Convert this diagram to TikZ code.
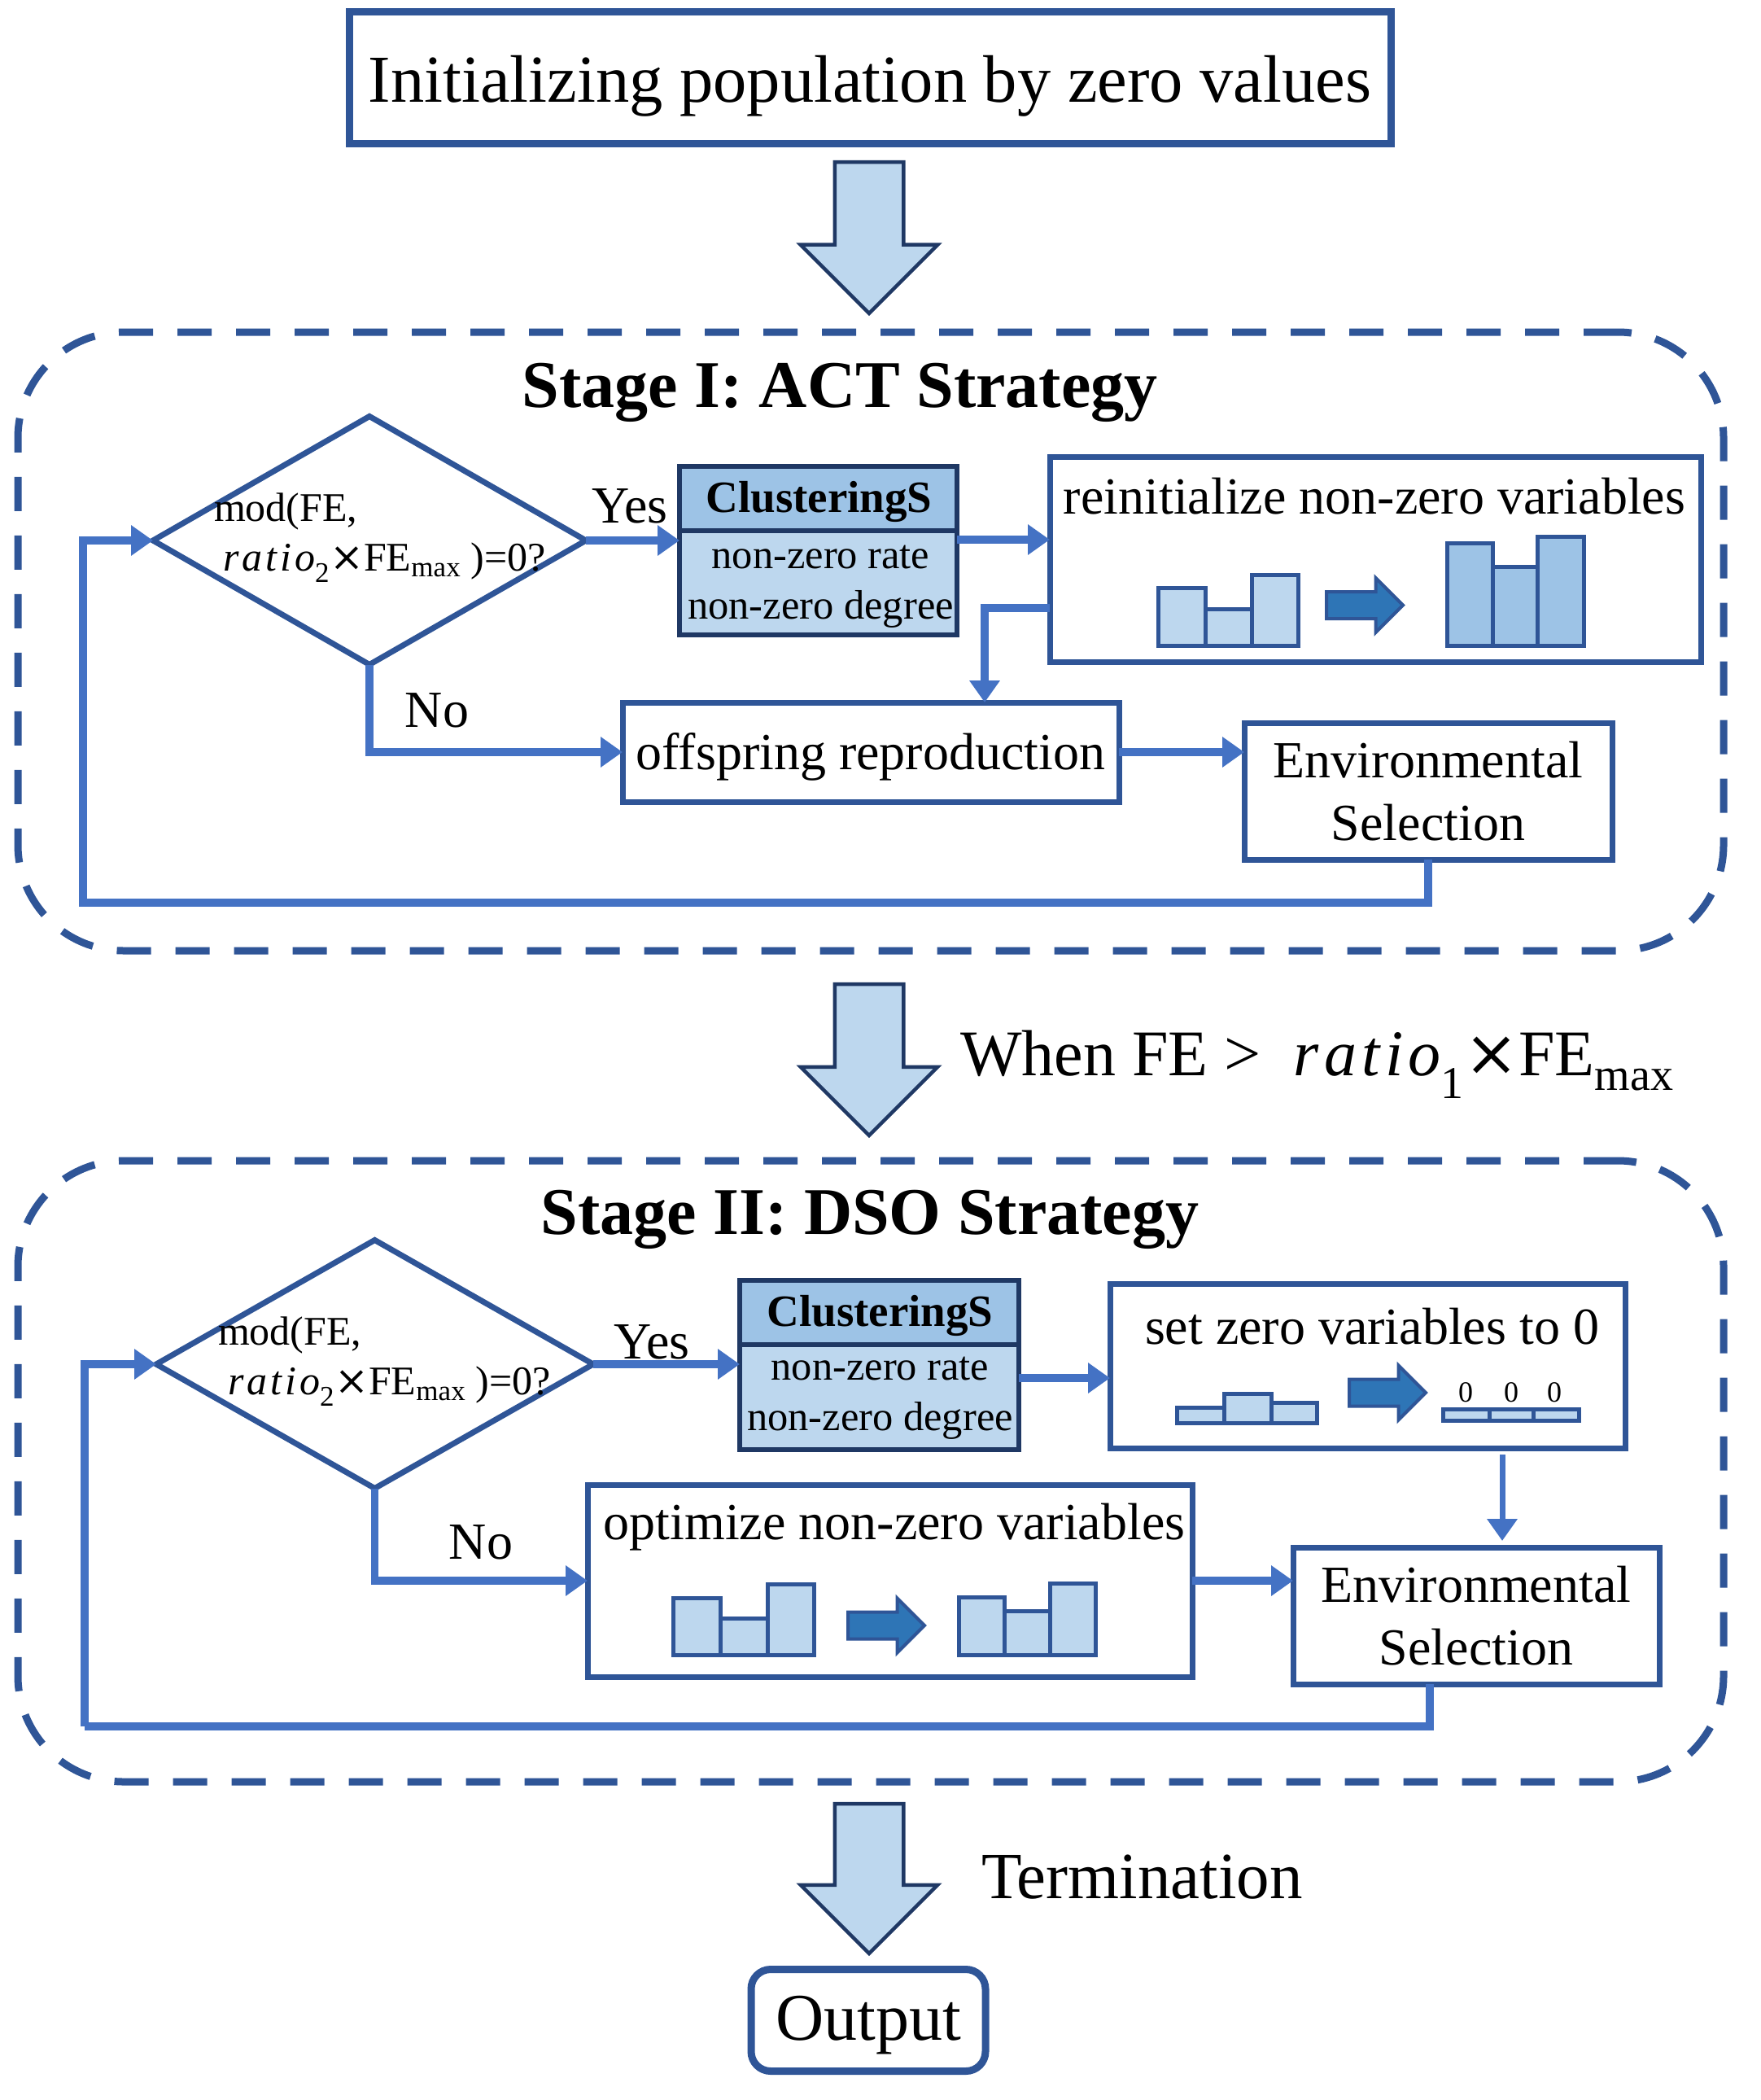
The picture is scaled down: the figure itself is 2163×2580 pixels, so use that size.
\documentclass[tikz,border=0pt]{standalone}
\usepackage{fontspec}
\setmainfont{Liberation Serif}
\newfontfamily\ratiofont[LetterSpace=8]{Liberation Serif}
\newfontfamily\mulfont{DejaVu Serif}
\usetikzlibrary{shapes.geometric,shapes.arrows,arrows.meta}
\definecolor{dkblue}{HTML}{2F5597}
\definecolor{navy}{HTML}{1F3864}
\definecolor{midblue}{HTML}{4472C4}
\definecolor{lightb}{HTML}{BDD7EE}
\definecolor{medb}{HTML}{9DC3E6}
\definecolor{arrb}{HTML}{2E75B6}
\newcommand{\fsz}[1]{\fontsize{#1}{\dimexpr#1pt*6/5\relax}\selectfont}
\newcommand{\ratiotxt}[1]{{\ratiofont\itshape ratio}\textsubscript{#1}{\mulfont ×}}
\tikzset{
  x=1pt,y=-1pt,
  boxn/.style={draw=dkblue,line width=7pt,rectangle,inner sep=0pt,outer sep=0pt,align=center,fill=white},
  stagebox/.style={draw=dkblue,line width=9pt,rectangle,rounded corners=130pt,dash pattern=on 42pt off 30pt,inner sep=0pt,outer sep=0pt},
  dia/.style={draw=dkblue,line width=7pt,diamond,aspect=1.75,inner sep=0pt,outer sep=0pt},
  clush/.style={draw=navy,line width=6pt,fill=medb,rectangle,inner sep=0pt,outer sep=0pt,align=center},
  clusb/.style={draw=navy,line width=6pt,fill=lightb,rectangle,inner sep=0pt,outer sep=0pt,align=center},
  conn/.style={draw=midblue,line width=9.5pt,-{Triangle[length=27pt,width=36pt]}},
  connp/.style={draw=midblue,line width=9.5pt},
  bigarrow/.style={draw=navy,line width=4.5pt,fill=lightb,single arrow,single arrow head extend=42pt,minimum width=164pt,inner sep=40pt,outer sep=0pt,shape border rotate=270,anchor=tail},
  smallarrow/.style={draw=dkblue,line width=4pt,fill=arrb,single arrow,single arrow head extend=17pt,minimum width=63pt,minimum height=94pt,inner sep=14.5pt,outer sep=0pt,anchor=tail},
  barl/.style={draw=dkblue,line width=5pt,fill=lightb},
  barm/.style={draw=dkblue,line width=5pt,fill=medb},
  lab/.style={inner sep=0pt,outer sep=0pt,align=center},
  labl/.style={inner sep=0pt,outer sep=0pt,anchor=west},
}
\begin{document}
\begin{tikzpicture}
\useasboundingbox (0,0) rectangle (2163,2580);
% stage frames
\node[stagebox,minimum width=2096pt,minimum height=760pt] (stage1) at (1070,788) {};
\node[stagebox,minimum width=2096pt,minimum height=763pt] (stage2) at (1070,1807.5) {};
% top and output
\node[boxn,line width=9pt,minimum width=1280pt,minimum height=161pt] (init) at (1069,95.5) {};
\node[lab,font=\fsz{82.5}] (initt) at (1069,106) {Initializing population by zero values};
\node[bigarrow,minimum height=186pt] (ba1) at (1068,199) {};
\node[bigarrow,minimum height=186pt] (ba2) at (1068,1209) {};
\node[bigarrow,minimum height=184pt] (ba3) at (1068,2216) {};
\node[boxn,line width=9pt,rounded corners=24pt,minimum width=288pt,minimum height=125pt] (out) at (1067,2482) {};
\node[lab,font=\fsz{82}] (outt) at (1067,2488) {Output};
\node[lab,font=\bfseries\fsz{82}] (t1) at (1032,482) {Stage I: ACT Strategy};
\node[lab,font=\bfseries\fsz{82}] (t2) at (1069,1498) {Stage II: DSO Strategy};
\node[labl,font=\fsz{80}] (when) at (1180,1308) {When FE > \ \ratiotxt{1}FE\textsubscript{max}};
\node[labl,font=\fsz{81}] (term) at (1206,2306) {Termination};
% Stage I
\node[dia,minimum width=532pt,minimum height=305pt] (dia1) at (454,664) {};
\node[labl,font=\fsz{50}] (m1a) at (263,628) {mod(FE,};
\node[labl,font=\fsz{50}] (m1b) at (274,691) {\ratiotxt{2}FE\textsubscript{max} )=0?};
\node[clush,minimum width=341pt,minimum height=79pt] (c1h) at (1005.5,612.5) {};
\node[lab,font=\bfseries\fsz{55}] (c1ht) at (1006.5,616) {ClusteringS};
\node[clusb,minimum width=341pt,minimum height=128pt] (c1b) at (1005.5,716) {};
\node[lab,font=\fsz{50.5}] (c1bt) at (1008.5,721) {non-zero rate\\[1pt]non-zero degree};
\node[boxn,minimum width=800pt,minimum height=252pt] (re) at (1690,687) {};
\node[lab,font=\fsz{64}] (ret) at (1689,610) {reinitialize non-zero variables};
\node[boxn,minimum width=610pt,minimum height=122pt] (off) at (1070,924) {};
\node[lab,font=\fsz{64}] (offt) at (1070,930) {offspring reproduction};
\node[boxn,minimum width=452pt,minimum height=168pt,font=\fsz{64}] (env1) at (1755,972) {Environmental\\Selection};
% bars 1
\draw[barl] (1423,722) rectangle (1481,793);
\draw[barl] (1481,748) rectangle (1538,793);
\draw[barl] (1538,706) rectangle (1595,793);
\node[smallarrow] (sa1) at (1630,743.5) {};
\draw[barm] (1778,667) rectangle (1834,793);
\draw[barm] (1834,696) rectangle (1889,793);
\draw[barm] (1889,659) rectangle (1946,793);
% connectors I
\node[lab,font=\fsz{64}] (y1) at (774,622) {Yes};
\node[lab,font=\fsz{64}] (n1) at (537,873) {No};
\coordinate (a1) at (1233,663);
\coordinate (a2) at (1210,747);
\coordinate (a3) at (102,1109);
\draw[conn] (dia1.east) -- (dia1.east -| c1b.west);
\draw[conn] (a1 -| c1b.east) -- (a1 -| re.west);
\draw[conn] (a2 -| re.west) -- (a2) -- (a2 |- off.north);
\draw[conn] (dia1.south) |- (off.west);
\draw[conn] (off.east) -- (off.east -| env1.west);
\draw[conn] (env1.south) |- (a3) |- (dia1.west);
% Stage II
\node[dia,minimum width=537pt,minimum height=305pt] (dia2) at (460.5,1676) {};
\node[labl,font=\fsz{50}] (m2a) at (268,1640) {mod(FE,};
\node[labl,font=\fsz{50}] (m2b) at (280,1703) {\ratiotxt{2}FE\textsubscript{max} )=0?};
\node[clush,minimum width=343pt,minimum height=79pt] (c2h) at (1080.5,1612.5) {};
\node[lab,font=\bfseries\fsz{55}] (c2ht) at (1081.5,1616) {ClusteringS};
\node[clusb,minimum width=343pt,minimum height=129pt] (c2b) at (1080.5,1716.5) {};
\node[lab,font=\fsz{50.5}] (c2bt) at (1081.5,1718) {non-zero rate\\[1pt]non-zero degree};
\node[boxn,minimum width=633pt,minimum height=202pt] (set) at (1680.5,1678) {};
\node[lab,font=\fsz{64}] (sett) at (1686,1630) {set zero variables to 0};
\node[boxn,minimum width=743pt,minimum height=236pt] (opt) at (1093.5,1942) {};
\node[lab,font=\fsz{64}] (optt) at (1099,1876) {optimize non-zero variables};
\node[boxn,minimum width=450pt,minimum height=168pt,font=\fsz{64}] (env2) at (1814,1985) {Environmental\\Selection};
% bars set
\draw[barl] (1446,1729) rectangle (1504,1748);
\draw[barl] (1504,1712) rectangle (1562,1748);
\draw[barl] (1562,1723) rectangle (1618,1748);
\node[smallarrow] (sa2) at (1658,1711) {};
\draw[barl] (1773,1731) rectangle (1830,1745);
\draw[barl] (1830,1731) rectangle (1884,1745);
\draw[barl] (1884,1731) rectangle (1940,1745);
\node[lab,font=\fsz{36}] (z1) at (1801,1711) {0};
\node[lab,font=\fsz{36}] (z2) at (1857,1711) {0};
\node[lab,font=\fsz{36}] (z3) at (1910,1711) {0};
% bars opt
\draw[barl] (827,1963) rectangle (885,2033);
\draw[barl] (885,1988) rectangle (943,2033);
\draw[barl] (943,1946) rectangle (1000,2033);
\node[smallarrow] (sa3) at (1042,1997) {};
\draw[barl] (1178,1962) rectangle (1234,2033);
\draw[barl] (1234,1979) rectangle (1290,2033);
\draw[barl] (1290,1945) rectangle (1346,2033);
% connectors II
\node[lab,font=\fsz{64}] (y2) at (801,1649) {Yes};
\node[lab,font=\fsz{64}] (n2) at (591,1895) {No};
\coordinate (b1) at (1308,1693);
\coordinate (b2) at (1846,1787);
\coordinate (b2e) at (1846,1893);
\coordinate (b3) at (1757,2121);
\coordinate (b4) at (104,2121);
\draw[conn] (dia2.east) -- (dia2.east -| c2b.west);
\draw[conn] (b1 -| c2b.east) -- (b1 -| set.west);
\draw[conn,line width=7pt] (b2) -- (b2e);
\draw[conn] (dia2.south) |- (opt.west);
\draw[conn] (opt.east) -- (opt.east -| env2.west);
\draw[connp] (b3 |- env2.south) -- (b3) -- (b4);
\draw[conn] (b4) |- (dia2.west);
\end{tikzpicture}
\end{document}
